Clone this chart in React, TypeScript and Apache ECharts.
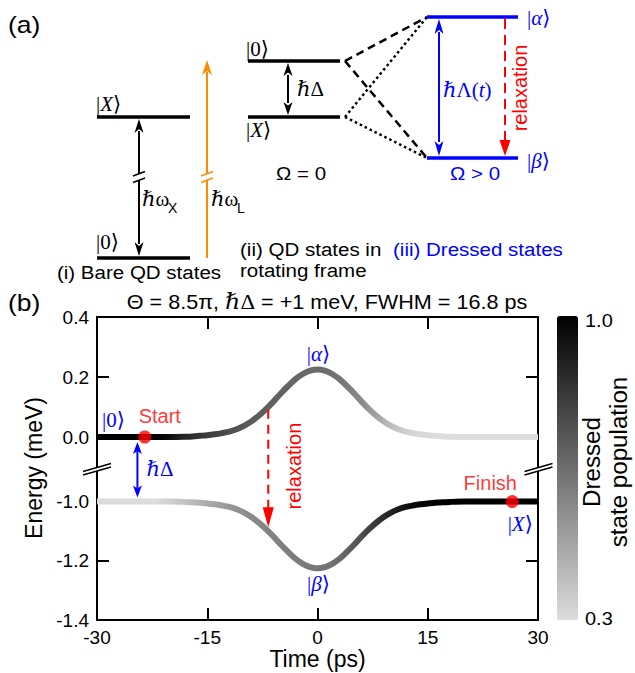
import React, { useEffect, useRef } from "react";
import * as echarts from "echarts";

// ---------- data ----------
const timePoints = [-30, -24, -20, -18, -17, -16, -15, -14, -13, -12, -11, -10, -9, -8, -7, -6, -5, -4, -3, -2, -1, 0, 1, 2, 3, 4, 5, 6, 7, 8, 9, 10, 11, 12, 13, 14, 15, 16, 17, 18, 20, 24, 30];
const upperEnergy = [0, 0, 0, 0.001, 0.002, 0.004, 0.006, 0.009, 0.013, 0.018, 0.026, 0.037, 0.052, 0.071, 0.093, 0.118, 0.145, 0.17, 0.193, 0.21, 0.221, 0.225, 0.221, 0.21, 0.193, 0.17, 0.145, 0.118, 0.093, 0.071, 0.052, 0.037, 0.026, 0.018, 0.013, 0.009, 0.006, 0.004, 0.002, 0.001, 0, 0, 0];
const lowerEnergy = [-1.0, -1.0, -1.0, -1.001, -1.002, -1.004, -1.006, -1.009, -1.013, -1.018, -1.026, -1.037, -1.052, -1.071, -1.093, -1.118, -1.145, -1.17, -1.193, -1.21, -1.221, -1.225, -1.221, -1.21, -1.193, -1.17, -1.145, -1.118, -1.093, -1.071, -1.052, -1.037, -1.026, -1.018, -1.013, -1.009, -1.006, -1.004, -1.002, -1.001, -1.0, -1.0, -1.0];
const popTimes = [-30, -22, -20, -18, -16, -14, -12, -10, -8, -6, -4, -2, 0, 2, 4, 6, 8, 10, 12, 14, 16, 20, 30];
const upperPopulation = [1.0, 1.0, 0.95, 0.88, 0.83, 0.79, 0.75, 0.72, 0.7, 0.69, 0.68, 0.67, 0.66, 0.645, 0.61, 0.56, 0.48, 0.4, 0.34, 0.31, 0.29, 0.28, 0.28];
const lowerPopulation = [0.28, 0.3, 0.34, 0.38, 0.43, 0.48, 0.52, 0.55, 0.57, 0.59, 0.6, 0.61, 0.62, 0.64, 0.69, 0.75, 0.83, 0.89, 0.95, 0.98, 1.0, 1.0, 1.0];
const upperYTicks = [0, 0.2, 0.4];
const lowerYTicks = [-1.4, -1.2, -1.0];
const startPoint = [-23.5, 0];
const finishPoint = [26.5, -1.0];
const relaxationTime = -6.7;
const detuningArrowTime = -24.5;
const colorbarRange = [0.3, 1.0];

const SANS = "'Liberation Sans', Arial, Helvetica, sans-serif";
const SERIF = "'Liberation Serif', 'Times New Roman', 'DejaVu Serif', serif";
const BLUE = "#0000ff";
const RED = "#ff0000";
const ORANGE = "#ff8a00";

function grayOf(p: number) {
  const c = Math.min(Math.max(p, colorbarRange[0]), colorbarRange[1]);
  const g = Math.round(220 * (1 - (c - colorbarRange[0]) / (colorbarRange[1] - colorbarRange[0])));
  return `rgb(${g},${g},${g})`;
}

function interp(xs: number[], ys: number[], x: number) {
  for (let i = 0; i < xs.length - 1; i++) {
    if (x >= xs[i] && x <= xs[i + 1]) {
      const f = (x - xs[i]) / (xs[i + 1] - xs[i]);
      return ys[i] + f * (ys[i + 1] - ys[i]);
    }
  }
  return ys[ys.length - 1];
}

// ---------- graphic helpers ----------
const line = (x1: number, y1: number, x2: number, y2: number, stroke: string, lineWidth: number, lineDash?: number[]) => {
  const style: any = { stroke, lineWidth, lineCap: "butt" };
  if (lineDash) style.lineDash = lineDash;
  return { type: "line", silent: true, z: 10, shape: { x1, y1, x2, y2 }, style };
};
// dir: 1 = pointing down, -1 = pointing up
const head = (x: number, tipY: number, dir: number, fill: string, len: number, hw: number, notch = 0) => ({
  type: "polygon",
  silent: true,
  z: 10,
  shape: { points: [[x, tipY], [x - hw, tipY - dir * len], [x, tipY - dir * (len - notch)], [x + hw, tipY - dir * len]] },
  style: { fill },
});
const txt = (text: string, x: number, y: number, o: any = {}) => {
  const align = o.align || "left";
  const style: any = {
    text,
    fill: o.fill || "#000",
    fontSize: o.fontSize || 19,
    fontFamily: o.fontFamily || SANS,
    fontStyle: o.fontStyle || "normal",
    align,
    textAlign: align,
    verticalAlign: "middle",
    textVerticalAlign: "middle",
  };
  if (o.rich) style.rich = o.rich;
  if (o.lineHeight) style.lineHeight = o.lineHeight;
  return {
    type: "text",
    silent: true,
    z: 11,
    x,
    y,
    rotation: o.rotation || 0,
    scaleX: o.scaleX ?? 1.08,
    scaleY: o.scaleY ?? 1,
    style,
  };
};
const serifRich = (color: string, size = 18) => ({
  n: { fontFamily: SERIF, fontSize: size, fill: color },
  i: { fontFamily: SERIF, fontSize: size, fontStyle: "italic", fill: color },
});
const ket = (sym: string, italic: boolean, x: number, y: number, color: string, align = "left") =>
  txt(`{n||}{${italic ? "i" : "n"}|${sym}}{n|\u27E9}`, x, y, { fill: color, rich: serifRich(color, 21), align, scaleX: 1 });

function panelA(): any[] {
  const els: any[] = [];
  const K = "#000";
  // (i) bare states
  els.push(line(97, 117, 190, 117, K, 3.5), line(97, 258, 190, 258, K, 3.5));
  els.push(line(139, 131, 139, 244, K, 2));
  els.push(head(139, 119, -1, K, 14, 4.5, 4), head(139, 256, 1, K, 14, 4.5, 4));
  els.push(line(207, 258, 207, 72, ORANGE, 2));
  els.push(head(207, 60, -1, ORANGE, 15, 5, 4));
  // breaks on the two arrows
  for (const [x, c] of [[139, K], [207, ORANGE]] as [number, string][]) {
    els.push({ type: "polygon", silent: true, z: 10, shape: { points: [[x - 6, 176], [x + 6, 171.5], [x + 6, 178], [x - 6, 182.5]] }, style: { fill: "#fff" } });
    els.push(line(x - 6, 176, x + 6, 171.5, c, 1.5), line(x - 6, 182.5, x + 6, 178, c, 1.5));
  }
  els.push(ket("X", true, 96, 104, K), ket("0", false, 96, 242, K));
  els.push(txt("{n|\u210F\u03C9}", 142, 199, { rich: serifRich(K, 21), scaleX: 1 }));
  els.push(txt("X", 168, 208, { fontSize: 14, scaleX: 1 }));
  els.push(txt("{n|\u210F\u03C9}", 211, 199, { rich: serifRich(K, 21), scaleX: 1 }));
  els.push(txt("L", 237, 208, { fontSize: 14, scaleX: 1 }));
  els.push(txt("(i) Bare QD states", 139, 272, { align: "center" }));

  // (ii) rotating frame
  els.push(line(248, 61, 340, 61, K, 3.5), line(248, 117, 340, 117, K, 3.5));
  els.push(line(288, 75, 288, 103, K, 2));
  els.push(head(288, 63, -1, K, 13, 4.5, 3.5), head(288, 115, 1, K, 13, 4.5, 3.5));
  els.push(ket("0", false, 246, 49, K), ket("X", true, 246, 130, K));
  els.push(txt("{i|\u210F}{n|\u0394}", 297, 89, { rich: serifRich(K, 21), scaleX: 1 }));
  els.push(txt("\u03A9 = 0", 301, 173, { align: "center" }));
  els.push(line(345, 61, 427, 17, K, 2.5, [8, 5]), line(345, 61, 427, 158, K, 2.5, [8, 5]));
  els.push(line(345, 117, 427, 17, K, 2.5, [2.5, 3]), line(345, 117, 427, 158, K, 2.5, [2.5, 3]));
  els.push(txt("(ii) QD states in", 240, 249), txt("rotating frame", 240, 270));

  // (iii) dressed states
  els.push(line(427, 17, 518, 17, BLUE, 3.5), line(427, 158, 518, 158, BLUE, 3.5));
  els.push(line(439, 32, 439, 142, BLUE, 2));
  els.push(head(439, 19, -1, BLUE, 15, 4.5, 4), head(439, 156, 1, BLUE, 15, 4.5, 4));
  els.push(line(505, 19, 505, 141, RED, 2, [10, 6]));
  els.push(head(505, 156, 1, RED, 16, 5.5, 0));
  els.push(txt("{i|\u210F}{n|\u039B(}{i|t}{n|)}", 443, 90, { rich: serifRich(BLUE, 21), scaleX: 1, fill: BLUE }));
  els.push(txt("relaxation", 520, 88, { rotation: Math.PI / 2, align: "center", fill: RED, fontSize: 20, scaleX: 1 }));
  els.push(ket("\u03B1", true, 527, 18, BLUE), ket("\u03B2", true, 527, 161, BLUE));
  els.push(txt("\u03A9 > 0", 475, 173, { align: "center", fill: BLUE }));
  els.push(txt("(iii) Dressed states", 393, 249, { fill: BLUE }));
  els.push(txt("(a)", 8, 25, { fontSize: 23, scaleX: 1.15 }));
  return els;
}

function panelB(p0: (x: number, y: number) => number[], p1: (x: number, y: number) => number[]): any[] {
  const els: any[] = [];
  const [xl] = p0(timePoints[0], upperYTicks[2]);
  const [xr] = p0(timePoints[timePoints.length - 1], upperYTicks[2]);
  const [, yb] = p0(timePoints[0], -0.1);
  for (const x of [xl, xr + 0.5]) {
    els.push({ type: "polygon", silent: true, z: 10, shape: { points: [[x - 14, yb + 4.5], [x + 14, yb - 3.5], [x + 14, yb], [x - 14, yb + 8]] }, style: { fill: "#fff" } });
    els.push(line(x - 14, yb + 4.5, x + 14, yb - 3.5, "#000", 1.5), line(x - 14, yb + 8, x + 14, yb, "#000", 1.5));
  }
  // detuning arrow
  const [xa, ya0] = p0(detuningArrowTime, 0);
  const [, ya1] = p1(detuningArrowTime, -1.0);
  els.push(line(xa, ya0 + 14, xa, ya1 - 13, BLUE, 2));
  els.push(head(xa, ya0 + 5, -1, BLUE, 12, 4.5, 3), head(xa, ya1 - 4, 1, BLUE, 12, 4.5, 3));
  els.push(txt("{i|\u210F}{n|\u0394}", xa + 9, (ya0 + ya1) / 2, { rich: serifRich(BLUE, 21), scaleX: 1 }));
  // relaxation arrow
  const eu = interp(timePoints, upperEnergy, relaxationTime);
  const elow = interp(timePoints, lowerEnergy, relaxationTime);
  const [xq, yq0] = p0(relaxationTime, eu);
  const [, yq1] = p1(relaxationTime, elow);
  els.push(line(xq, yq0 + 3, xq, yq1 - 22, RED, 2, [9, 6]));
  els.push(head(xq, yq1 - 4, 1, RED, 20, 5.5, 0));
  els.push(txt("relaxation", xq + 26, (yq0 + yq1) / 2 - 3, { rotation: Math.PI / 2, align: "center", fill: RED, fontSize: 20, scaleX: 1 }));
  // kets
  const [x00, y00] = p0(timePoints[0], 0);
  els.push(ket("0", false, x00 + 5, y00 - 17, BLUE));
  const [xa0, ya] = p0(0, 0.225);
  els.push(ket("\u03B1", true, xa0 + 1, ya - 16, BLUE, "center"));
  const [xb0, yb0] = p1(0, -1.225);
  els.push(ket("\u03B2", true, xb0 + 1, yb0 + 16, BLUE, "center"));
  const [xf, yf] = p1(finishPoint[0], finishPoint[1]);
  els.push(ket("X", true, xf + 8, yf + 22, BLUE, "center"));
  // titles & labels
  els.push(
    txt("{a|\u0398 = 8.5\u03C0, }{b|\u210F}{c|\u0394}{a| = +1 meV, FWHM = 16.8 ps}", 327, 302, {
      align: "center",
      rich: {
        a: { fontFamily: SANS, fontSize: 20, fill: "#000" },
        b: { fontFamily: SERIF, fontSize: 22, fontStyle: "italic", fill: "#000" },
        c: { fontFamily: SERIF, fontSize: 21, fill: "#000" },
      },
      scaleX: 1.08,
    })
  );
  els.push(txt("(b)", 8, 303, { fontSize: 23, scaleX: 1.15 }));
  els.push(txt("Energy (meV)", 34, 468, { rotation: Math.PI / 2, align: "center", fontSize: 23, scaleX: 1 }));
  els.push(txt("1.0", 585, 320, { scaleX: 1.05 }), txt("0.3", 585, 618, { scaleX: 1.05 }));
  els.push(txt("Dressed\nstate population", 606, 462, { rotation: Math.PI / 2, align: "center", fontSize: 23, lineHeight: 27, scaleX: 1.05 }));
  return els;
}

export default function App() {
  const ref = useRef<HTMLDivElement>(null);
  useEffect(() => {
    const el = ref.current;
    if (!el) return;
    const chart = echarts.init(el, null, { renderer: "svg" });
    const x0 = timePoints[0];
    const x1 = timePoints[timePoints.length - 1];
    const grad = (pops: number[]) =>
      new echarts.graphic.LinearGradient(0, 0, 1, 0, popTimes.map((t, i) => ({ offset: (t - x0) / (x1 - x0), color: grayOf(pops[i]) })));

    const axisLine = { show: true, onZero: false, lineStyle: { color: "#000", width: 2 } };
    const tick = (vals?: number[]) => {
      const t: any = { show: true, inside: true, length: 12, lineStyle: { color: "#000", width: 2 } };
      if (vals) t.customValues = vals;
      return t;
    };
    const label = { color: "#000", fontSize: 19, fontFamily: SANS, margin: 8 };

    const option: any = {
      animation: false,
      textStyle: { fontFamily: SANS },
      grid: [
        { left: 97, top: 317, width: 441, height: 150, outerBoundsMode: "none" },
        { left: 97, top: 467, width: 441, height: 153, outerBoundsMode: "none" },
      ],
      xAxis: [
        { gridIndex: 0, type: "value", min: x0, max: x1, interval: 15, position: "top", axisLine, axisTick: tick(), axisLabel: { show: false }, splitLine: { show: false } },
        {
          gridIndex: 1, type: "value", min: x0, max: x1, interval: 15, position: "bottom", axisLine, axisTick: tick(), axisLabel: label, splitLine: { show: false },
          name: "Time (ps)", nameLocation: "middle", nameGap: 26, nameTextStyle: { color: "#000", fontSize: 23, fontFamily: SANS },
        },
      ],
      yAxis: [
        { gridIndex: 0, type: "value", min: -0.1, max: 0.4, position: "left", axisLine, axisTick: tick(upperYTicks), axisLabel: { ...label, customValues: upperYTicks, formatter: (v: number) => v.toFixed(1) }, splitLine: { show: false } },
        { gridIndex: 0, type: "value", min: -0.1, max: 0.4, position: "right", axisLine, axisTick: tick(upperYTicks), axisLabel: { show: false }, splitLine: { show: false } },
        { gridIndex: 1, type: "value", min: -1.4, max: -0.883, position: "left", axisLine, axisTick: tick(lowerYTicks), axisLabel: { ...label, customValues: lowerYTicks, formatter: (v: number) => v.toFixed(1) }, splitLine: { show: false } },
        { gridIndex: 1, type: "value", min: -1.4, max: -0.883, position: "right", axisLine, axisTick: tick(lowerYTicks), axisLabel: { show: false }, splitLine: { show: false } },
      ],
      visualMap: {
        type: "continuous",
        seriesIndex: 4,
        min: colorbarRange[0],
        max: colorbarRange[1],
        calculable: false,
        hoverLink: false,
        orient: "vertical",
        left: 557,
        top: 316,
        padding: 0,
        itemWidth: 21,
        itemHeight: 304,
        inRange: { color: ["#dcdcdc", "#000000"] },
      },
      series: [
        {
          type: "line", xAxisIndex: 0, yAxisIndex: 0, data: timePoints.map((t, i) => [t, upperEnergy[i]]),
          showSymbol: false, smooth: 0.3, lineStyle: { width: 6, color: grad(upperPopulation) }, z: 3, silent: true,
        },
        {
          type: "line", xAxisIndex: 1, yAxisIndex: 2, data: timePoints.map((t, i) => [t, lowerEnergy[i]]),
          showSymbol: false, smooth: 0.3, lineStyle: { width: 6, color: grad(lowerPopulation) }, z: 3, silent: true,
        },
        {
          type: "scatter", xAxisIndex: 0, yAxisIndex: 0, data: [startPoint], symbolSize: 13, itemStyle: { color: RED }, z: 5, silent: true,
          label: { show: true, formatter: "Start", position: "top", distance: 5, offset: [15, 0], color: RED, fontSize: 20, fontFamily: SANS },
        },
        {
          type: "scatter", xAxisIndex: 1, yAxisIndex: 2, data: [finishPoint], symbolSize: 13, itemStyle: { color: RED }, z: 5, silent: true,
          label: { show: true, formatter: "Finish", position: "top", distance: 5, offset: [-22, 3], color: RED, fontSize: 20, fontFamily: SANS },
        },
        { type: "scatter", xAxisIndex: 0, yAxisIndex: 0, data: [], silent: true },
      ],
    };
    chart.setOption(option);
    const p0 = (x: number, y: number) => chart.convertToPixel({ xAxisIndex: 0, yAxisIndex: 0 }, [x, y]) as number[];
    const p1 = (x: number, y: number) => chart.convertToPixel({ xAxisIndex: 1, yAxisIndex: 2 }, [x, y]) as number[];
    chart.setOption({ graphic: { elements: [...panelA(), ...panelB(p0, p1)] } });
    return () => chart.dispose();
  }, []);
  return <div ref={ref} style={{ position: "absolute", left: 0, top: 0, width: 635, height: 673 }} />;
}
